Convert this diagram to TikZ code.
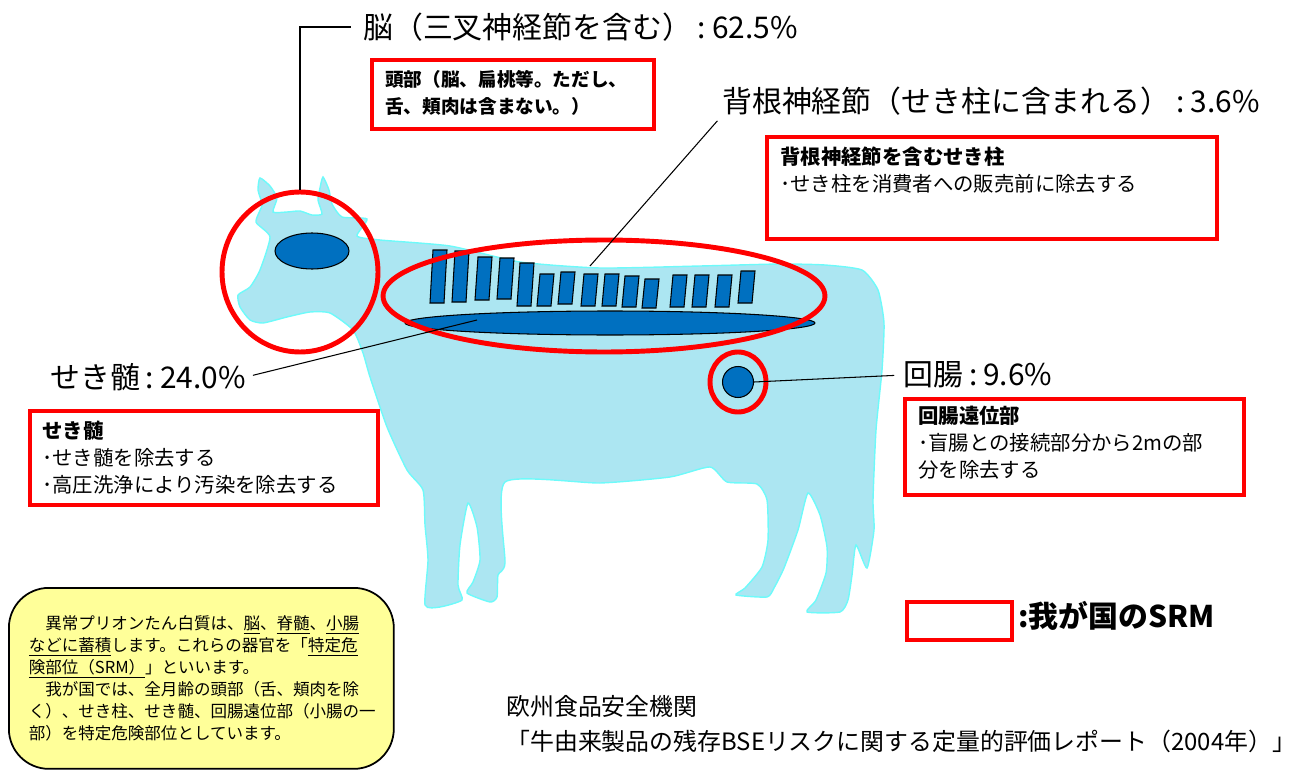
\documentclass[tikz,border=0pt]{standalone}
\usepackage{fontspec}
\setmainfont{Noto Sans CJK JP}
\usetikzlibrary{shapes.geometric}
\definecolor{srmred}{RGB}{255,0,0}
\definecolor{organblue}{RGB}{0,112,192}
\definecolor{cowfill}{RGB}{172,230,242}
\definecolor{cowedge}{RGB}{110,250,250}
\definecolor{notefill}{RGB}{255,255,153}
\newcommand{\pcolon}{\kern0.2em:\kern0.2em}
\tikzset{font=\fontsize{11.6}{15.3}\selectfont}
\tikzstyle{ring}=[ellipse,draw=srmred,line width=2.8pt,inner sep=0pt]
\tikzstyle{organ}=[ellipse,draw=black,fill=organblue,line width=0.6pt,inner sep=0pt]
\tikzstyle{vert}=[draw=black,fill=organblue,line width=0.6pt]
\tikzstyle{srmbox}=[draw=srmred,line width=2.3pt,anchor=north west,inner sep=0pt]
\tikzstyle{boxtext}=[anchor=north west,align=left,inner sep=0pt]
\tikzstyle{pct}=[anchor=west,inner sep=0pt,font=\fontsize{17}{20}\selectfont]
\tikzstyle{lead}=[draw=black,line width=0.6pt]

\begin{document}
\begin{tikzpicture}[x=0.02cm,y=-0.02cm]
\useasboundingbox (0,0) rectangle (1304,770);

% cow
\fill[cowfill,draw=cowedge,line width=0.8pt] plot[smooth cycle,tension=0.35] coordinates {
(260,178) (270,186) (277,198) (273,212) (287,212) (300,211) (312,215) (322,214)
(318,200) (320,188) (323,177) (329,190) (332,204) (342,217) (367,219) (357,236)
(380,240) (450,246) (520,262) (600,268) (700,266) (780,264) (825,265) (862,270)
(878,290) (884,323) (882,370) (876,430) (873,500) (874,530) (867,568) (856,545)
(852,575) (848,600) (840,612) (807,612) (816,600) (826,573) (827,547) (820,515)
(808,493) (798,530) (784,568) (774,588) (767,597) (736,595) (745,588) (762,567)
(768,540) (767,500) (757,484) (727,482) (710,467) (670,477) (600,483) (505,482)
(505,563) (498,575) (497,597) (490,602) (467,593) (473,582) (480,560) (477,527)
(468,503) (460,545) (458,585) (462,600) (440,607) (425,605) (428,560) (425,525)
(423,490) (407,470) (387,427) (370,377) (363,353) (353,330) (330,313) (310,312)
(287,317) (263,323) (250,320) (240,307) (238,295) (250,287) (260,270) (270,237)
(256,222) (262,205) (258,190)};

% vertebrae
\foreach \x/\t/\b in {438/250/303,460/251/302,483/257/300,505/258/299,525/263/306,
  545/274/306,566/272/304,589/274/306,610/274/306,630/276/307,650/279/308,
  678/275/307,700/275/307,723/275/307,746/271/303}
  \draw[vert] (\x-8,\b) -- (\x-5,\t) -- (\x+9,\t) -- (\x+6,\b) -- cycle;

\node (cord) [organ,minimum width=8.2cm,minimum height=0.48cm] at (610,323) {};
\node (brain) [organ,minimum width=1.48cm,minimum height=0.72cm] at (312,251) {};
\node (ileum) [organ,circle,minimum size=0.62cm] at (738,382) {};

\node (headring) [ring,minimum width=3.12cm,minimum height=3.2cm] at (300,272) {};
\node (spinering) [ring,minimum width=8.84cm,minimum height=2.24cm] at (604,296) {};
\node (ileumring) [ring,minimum width=1.12cm,minimum height=1.2cm] at (738,382) {};

% labels
\node (brainlbl) [pct] at (363,27) {脳（三叉神経節を含む）\pcolon 62.5\%};
\node (drglbl) [pct] at (722,101) {背根神経節（せき柱に含まれる）\pcolon 3.6\%};
\node (cordlbl) [pct] at (50,377) {せき髄\pcolon 24.0\%};
\node (ileumlbl) [pct] at (903,375) {回腸\pcolon 9.6\%};

\coordinate (drgpt) at (590,266);
\coordinate (cordpt) at (477,320);
\draw[lead,shorten >=7pt] (headring.north) |- (brainlbl.west);
\draw[lead,shorten >=4pt] (drgpt) -- (drglbl.south west);
\draw[lead,shorten <=4pt] (cordlbl.east) -- (cordpt);
\draw[lead,shorten >=5pt] (ileum.east) -- (ileumlbl.west);

% SRM boxes
\node (headbox) [srmbox,minimum width=5.64cm,minimum height=1.38cm] at (370,58) {};
\node (headtxt) [boxtext,font=\fontsize{10.6}{15.3}\selectfont\bfseries] at (385,70)
  {頭部（脳、扁桃等。ただし、\\舌、頬肉は含まない。）};

\node (drgbox) [srmbox,minimum width=9cm,minimum height=2.04cm] at (765,135) {};
\node (drgtxt) [boxtext] at (780,147)
  {\textbf{背根神経節を含むせき柱}\\･せき柱を消費者への販売前に除去する};

\node (cordbox) [srmbox,minimum width=6.96cm,minimum height=1.88cm] at (28,409) {};
\node (cordtxt) [boxtext] at (42,421)
  {\textbf{せき髄}\\･せき髄を除去する\\･高圧洗浄により汚染を除去する};

\node (ileumbox) [srmbox,minimum width=6.78cm,minimum height=1.92cm] at (903,397) {};
\node (ileumtxt) [boxtext] at (918,406)
  {\textbf{回腸遠位部}\\･盲腸との接続部分から2mの部\\分を除去する};

% legend
\node (keybox) [srmbox,minimum width=2.1cm,minimum height=0.76cm] at (905,600) {};
\node (keylbl) [pct,font=\fontsize{17}{20}\selectfont\bfseries] at (1018,616) {:我が国のSRM};

% note
\node (note) [draw=black,fill=notefill,line width=1pt,rounded corners=0.8cm,
  anchor=north west,minimum width=7.68cm,minimum height=3.62cm,
  text width=6.9cm,inner xsep=0.4cm,align=left,
  font=\fontsize{9.4}{12.5}\selectfont] at (8,587)
  {　異常プリオンたん白質は、\underline{脳}、\underline{脊髄}、\underline{小腸}\\
   \underline{などに蓄積}します。これらの器官を「\underline{特定危}\\
   \underline{険部位（SRM）}」といいます。\\
   　我が国では、全月齢の頭部（舌、頬肉を除\\
   く）、せき柱、せき髄、回腸遠位部（小腸の一\\
   部）を特定危険部位としています。};

% source
\node (src) [anchor=north west,align=left,inner sep=0pt,
  font=\fontsize{13.6}{19.8}\selectfont] at (506,695)
  {欧州食品安全機関\\「牛由来製品の残存BSEリスクに関する定量的評価レポート（2004年）」};
\end{tikzpicture}
\end{document}
